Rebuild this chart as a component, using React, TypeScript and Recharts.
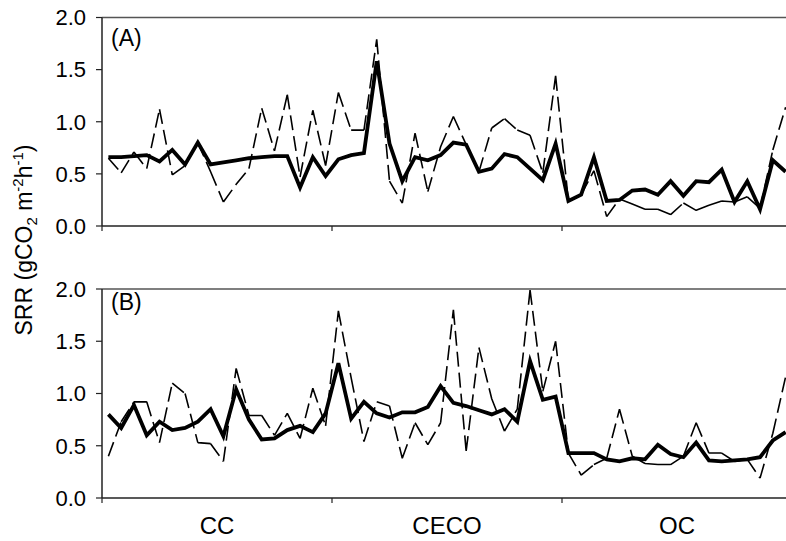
import React from 'react';
import { LineChart, Line, XAxis, YAxis, ReferenceLine } from 'recharts';

// ---------- data ----------
const GROUPS = ['CC', 'CECO', 'OC'];
const GROUP_BOUNDARIES = [0, 18, 36, 54];
const GROUP_CENTERS = [9, 27, 45];
const Y_TICKS = [0, 0.5, 1, 1.5, 2];

const A_THICK = [
  0.66, 0.66, 0.67, 0.68, 0.62, 0.73, 0.59, 0.8, 0.59, 0.61, 0.63, 0.65, 0.66, 0.67, 0.67, 0.37, 0.66, 0.48,
  0.64, 0.68, 0.7, 1.58, 0.79, 0.43, 0.66, 0.63, 0.68, 0.8, 0.78, 0.52, 0.55, 0.69, 0.66, 0.55, 0.44, 0.79,
  0.24, 0.3, 0.66, 0.24, 0.25, 0.34, 0.35, 0.3, 0.43, 0.29, 0.43, 0.42, 0.54, 0.23, 0.43, 0.16, 0.63, 0.52,
];
const A_DASHED = [
  0.65, 0.51, 0.71, 0.55, 1.12, 0.49, 0.58, 0.8, 0.52, 0.23, 0.4, 0.55, 1.13, 0.72, 1.26, 0.47, 1.11, 0.58,
  1.28, 0.92, 0.92, 1.79, 0.43, 0.22, 0.89, 0.33, 0.76, 1.05, 0.78, 0.52, 0.94, 1.03, 0.92, 0.87, 0.51, 1.44,
  0.24, 0.3, 0.53, 0.09, 0.26, 0.21, 0.16, 0.16, 0.11, 0.22, 0.15, 0.2, 0.24, 0.23, 0.28, 0.17, 0.73, 1.14,
];
const B_THICK = [
  0.8, 0.67, 0.89, 0.6, 0.73, 0.65, 0.67, 0.73, 0.85, 0.59, 1.04, 0.75, 0.56, 0.57, 0.65, 0.69, 0.63, 0.81,
  1.29, 0.76, 0.92, 0.81, 0.77, 0.82, 0.82, 0.87, 1.07, 0.91, 0.88, 0.84, 0.8, 0.85, 0.73, 1.31, 0.94, 0.97,
  0.43, 0.43, 0.43, 0.37, 0.35, 0.38, 0.37, 0.51, 0.42, 0.39, 0.53, 0.36, 0.35, 0.36, 0.37, 0.39, 0.55, 0.63,
];
const B_DASHED = [
  0.4, 0.73, 0.92, 0.92, 0.53, 1.1, 1.0, 0.53, 0.52, 0.35, 1.24, 0.79, 0.79, 0.6, 0.81, 0.57, 1.05, 0.69,
  1.79, 1.15, 0.54, 0.92, 0.88, 0.38, 0.72, 0.51, 0.72, 1.8, 0.45, 1.44, 0.95, 0.64, 0.85, 1.99, 1.02, 1.5,
  0.43, 0.22, 0.32, 0.38, 0.85, 0.4, 0.33, 0.32, 0.32, 0.4, 0.72, 0.43, 0.43, 0.35, 0.37, 0.19, 0.62, 1.16,
];

const buildRows = (thick: number[], dashed: number[]) =>
  thick.map((v, i) => ({ x: i + 0.5, thick: v, dashed: dashed[i] }));

const ROWS_A = buildRows(A_THICK, A_DASHED);
const ROWS_B = buildRows(B_THICK, B_DASHED);

// ---------- styling ----------
const FONT = '"Liberation Sans", Arial, Helvetica, sans-serif';
const AXIS_COLOR = '#222';

// each segment is its own subpath so the dash pattern restarts at every point
function segmentCurve(context: any) {
  let px = 0;
  let py = 0;
  let started = false;
  return {
    areaStart() {},
    areaEnd() {},
    lineStart() {
      started = false;
    },
    lineEnd() {},
    point(x: number, y: number) {
      x = +x;
      y = +y;
      if (started) {
        context.moveTo(px, py);
        context.lineTo(x, y);
      }
      started = true;
      px = x;
      py = y;
    },
  };
}

const makeXTick = (withLabels: boolean) => (props: any) => {
  const { x, y, payload } = props;
  const gi = GROUP_CENTERS.indexOf(payload.value);
  if (gi >= 0) {
    if (!withLabels) return <g />;
    return (
      <text x={x} y={y + 19} dy="0.71em" textAnchor="middle" fontSize={24} fontFamily={FONT} fill="#000">
        {GROUPS[gi]}
      </text>
    );
  }
  return <line x1={x} x2={x} y1={y} y2={y + 5} stroke={AXIS_COLOR} strokeWidth={1.2} />;
};

const ALL_X_TICKS = [...GROUP_BOUNDARIES, ...GROUP_CENTERS].sort((a, b) => a - b);

function Panel({
  rows,
  width,
  height,
  margin,
  xAxisHeight,
  withLabels,
}: {
  rows: any[];
  width: number;
  height: number;
  margin: any;
  xAxisHeight: number;
  withLabels: boolean;
}) {
  return (
    <LineChart width={width} height={height} data={rows} margin={margin}>
      <XAxis
        dataKey="x"
        type="number"
        domain={[0, 54]}
        ticks={ALL_X_TICKS}
        interval={0}
        height={xAxisHeight}
        tickLine={false}
        tickSize={0}
        tickMargin={0}
        tick={makeXTick(withLabels)}
        axisLine={{ stroke: AXIS_COLOR, strokeWidth: 1.5 }}
        allowDataOverflow
      />
      <YAxis
        type="number"
        domain={[0, 2]}
        ticks={Y_TICKS}
        width={102}
        tickSize={6}
        tickMargin={10}
        tickFormatter={(v: number) => v.toFixed(1)}
        tick={{ fontSize: 22, fill: '#000', fontFamily: FONT }}
        tickLine={{ stroke: AXIS_COLOR, strokeWidth: 1.2 }}
        axisLine={{ stroke: AXIS_COLOR, strokeWidth: 1.5 }}
      />
      <ReferenceLine y={2} stroke="#555" strokeWidth={1.5} />
      <Line
        dataKey="dashed"
        type={segmentCurve as any}
        stroke="#000"
        strokeWidth={1.6}
        strokeDasharray="15 6"
        dot={false}
        activeDot={false}
        isAnimationActive={false}
      />
      <Line
        dataKey="thick"
        type="linear"
        stroke="#000"
        strokeWidth={3.8}
        dot={false}
        activeDot={false}
        isAnimationActive={false}
      />
    </LineChart>
  );
}

export default function App() {
  return (
    <div
      style={{
        position: 'absolute',
        left: 0,
        top: 0,
        width: 786,
        height: 541,
        overflow: 'hidden',
        background: '#fff',
        fontFamily: FONT,
      }}
    >
      <div style={{ position: 'absolute', left: 0, top: 0 }}>
        <Panel
          rows={ROWS_A}
          width={808}
          height={240}
          margin={{ top: 17.5, right: 16, left: 0, bottom: 4 }}
          xAxisHeight={10}
          withLabels={false}
        />
      </div>
      <div style={{ position: 'absolute', left: 0, top: 260 }}>
        <Panel
          rows={ROWS_B}
          width={808}
          height={281}
          margin={{ top: 29, right: 16, left: 0, bottom: 0 }}
          xAxisHeight={43}
          withLabels={true}
        />
      </div>
      <svg
        width={786}
        height={541}
        style={{ position: 'absolute', left: 0, top: 0, pointerEvents: 'none' }}
      >
        <text x={111} y={46} fontSize={23} fontFamily={FONT} fill="#000">
          (A)
        </text>
        <text x={111} y={310} fontSize={23} fontFamily={FONT} fill="#000">
          (B)
        </text>
        <text
          x={32}
          y={240}
          transform="rotate(-90 32 240)"
          textAnchor="middle"
          fontSize={23}
          fontFamily={FONT}
          fill="#000"
        >
          SRR (gCO
          <tspan dy={5} fontSize={15}>
            2
          </tspan>
          <tspan dy={-5}> m</tspan>
          <tspan dy={-9} fontSize={15}>
            -2
          </tspan>
          <tspan dy={9}>h</tspan>
          <tspan dy={-9} fontSize={15}>
            -1
          </tspan>
          <tspan dy={9}>)</tspan>
        </text>
      </svg>
    </div>
  );
}
